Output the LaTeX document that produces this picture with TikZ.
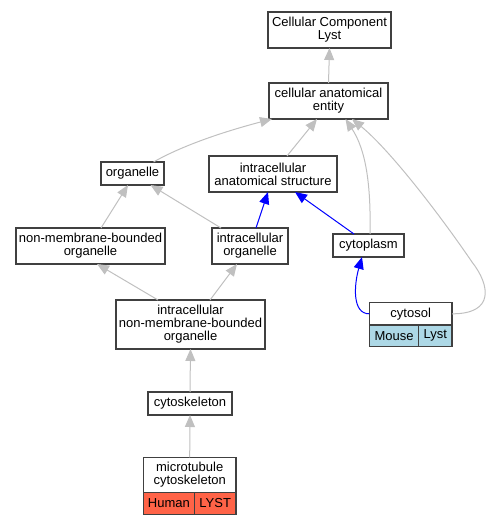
\documentclass[tikz,border=0pt]{standalone}
\usepackage{fontspec}
\setmainfont{Liberation Sans}
\usetikzlibrary{arrows.meta}
\definecolor{edgegray}{HTML}{C0C0C0}
\definecolor{boxline}{HTML}{404040}
\definecolor{humanred}{HTML}{FF6347}
\definecolor{mouseblue}{HTML}{ADD8E6}
\begin{document}
\begin{tikzpicture}[
            x=1pt, y=-1pt,
            every node/.style={rectangle, draw=boxline, line width=1.2pt, inner sep=0pt, outer sep=0pt, align=center, font=\fontsize{13}{13}\selectfont},
            cell/.style={minimum height=21.5pt, anchor=north west},
            isa/.style={draw=edgegray, line width=1pt, -{Triangle[length=12pt,width=10pt]}},
            partof/.style={isa, draw=blue}
            ]
            \useasboundingbox (0,0) rectangle (489,525);

            \node[minimum width=123pt, minimum height=36pt] (ccl) at (329.5,30) {Cellular Component\\Lyst};
            \node[minimum width=119pt, minimum height=36pt] (cae) at (328.5,101) {cellular anatomical\\entity};
            \node[minimum width=63pt, minimum height=23pt] (organelle) at (132.5,173.5) {organelle};
            \node[minimum width=128pt, minimum height=36pt] (ias) at (273,174) {intracellular\\anatomical structure};
            \node[minimum width=149pt, minimum height=36pt] (nmbo) at (90.5,246) {non-membrane-bounded\\organelle};
            \node[minimum width=76pt, minimum height=36pt] (io) at (250,246) {intracellular\\organelle};
            \node[minimum width=71pt, minimum height=23pt] (cytoplasm) at (368.5,245.5) {cytoplasm};
            \node[minimum width=149pt, minimum height=49pt] (inmbo) at (190.5,324.5) {intracellular\\non-membrane-bounded\\organelle};
            \node[minimum width=84pt, minimum height=23pt] (cytoskeleton) at (190,403.5) {cytoskeleton};

            \node[minimum width=82.7pt, minimum height=22.3pt] (cytosol) at (410.7,313.8) {cytosol};
            \node[cell, fill=mouseblue, minimum width=49.4pt] (cytosolsp) at (cytosol.south west) {Mouse};
            \node[cell, fill=mouseblue, minimum width=33.3pt] (cytosolgene) at (cytosolsp.north east) {Lyst};

            \node[minimum width=92.7pt, minimum height=35.4pt] (mt) at (189.7,475) {microtubule\\cytoskeleton};
            \node[cell, fill=humanred, minimum width=51pt] (mtsp) at (mt.south west) {Human};
            \node[cell, fill=humanred, minimum width=41.7pt] (mtgene) at (mtsp.north east) {LYST};

            \draw[isa] (cae.north) -- (ccl.south);
            \draw[isa] ([xshift=21pt]organelle.north) .. controls (185,144) and (230,130) .. ([xshift=3pt]cae.south west);
            \draw[isa] ([xshift=14pt]ias.north) -- ([xshift=-11.5pt]cae.south);
            \draw[isa] ([xshift=1.5pt]cytoplasm.north) .. controls (371,185) and (366,150) .. ([xshift=17pt]cae.south);
            \draw[isa] (cytosol.east) .. controls (495,314) and (490,285) .. (472,262)
                .. controls (440,215) and (390,150) .. ([xshift=23.5pt]cae.south);
            \draw[isa] ([xshift=10.5pt]nmbo.north) -- ([xshift=-4.5pt]organelle.south);
            \draw[isa] ([xshift=-29pt]io.north) -- ([xshift=18pt]organelle.south);
            \draw[partof] ([xshift=6pt]io.north) -- ([xshift=-5pt]ias.south);
            \draw[partof] ([xshift=-14.5pt]cytoplasm.north) -- ([xshift=22pt]ias.south);
            \draw[partof] (cytosol.west) .. controls (352,314) and (354,285) .. ([xshift=-6.5pt]cytoplasm.south);
            \draw[isa] ([xshift=-32.5pt]inmbo.north) -- ([xshift=-68pt]nmbo.south east);
            \draw[isa] ([xshift=19.5pt]inmbo.north) -- ([xshift=-13pt]io.south);
            \draw[isa] (cytoskeleton.north) -- (inmbo.south);
            \draw[isa] (mt.north) -- (cytoskeleton.south);
        \end{tikzpicture}
\end{document}
